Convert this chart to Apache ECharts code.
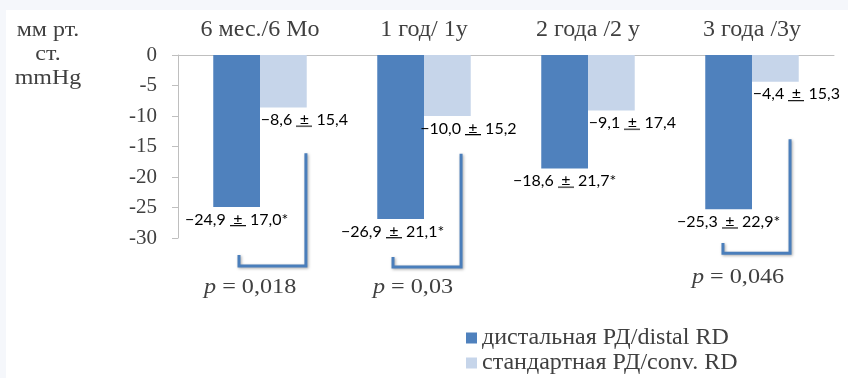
<!DOCTYPE html>
<html>
<head>
<meta charset="utf-8">
<script src="https://cdn.jsdelivr.net/npm/echarts@6/dist/echarts.min.js"></script>
<style>
  html, body { margin: 0; padding: 0; background: #f5f7fb; }
  #chart { width: 848px; height: 378px; }
</style>
</head>
<body>
<div id="chart"></div>
<script>
// Follow-up periods
const categories = ['6 мес./6 Mo', '1 год/ 1y', '2 года /2 y', '3 года /3y'];
// Mean change (mm Hg) and SD, distal renal denervation
const distalMean = [-24.9, -26.9, -18.6, -25.3];
const distalSd = [17.0, 21.1, 21.7, 22.9];
// Mean change (mm Hg) and SD, conventional renal denervation
const convMean = [-8.6, -10.0, -9.1, -4.4];
const convSd = [15.4, 15.2, 17.4, 15.3];
// Between-group p values per period (null = not shown)
const pValues = ['0,018', '0,03', null, '0,046'];
// Value-axis ticks
const yTicks = [0, -5, -10, -15, -20, -25, -30];

const seriesNames = ['дистальная РД/distal RD', 'стандартная РД/conv. RD'];

const fmt = v => Math.abs(v).toFixed(1).replace('.', ',');
const labelFont = 'Lato, "Open Sans", sans-serif';
const labelSize = 16;
const serif = '"Liberation Serif", "DejaVu Serif", serif';
const textGray = '#404040';

// Small image used as the background of the "±" segment to underline it
const underline = document.createElement('canvas');
underline.width = 20; underline.height = 20;
(() => {
  const g = underline.getContext('2d');
  g.fillStyle = '#000';
  g.fillRect(0, 17, 20, 1.4);
})();
const richLabel = {
  pm: { fontFamily: labelFont, fontSize: labelSize, lineHeight: 19, color: '#000', backgroundColor: { image: underline } }
};
const labelText = (mean, sd, star) =>
  '\u2212' + fmt(mean) + ' {pm|\u00B1} ' + fmt(sd) + (star ? '*' : '');

// Bracket geometry for each p value: horizontal ends as fraction of the category band,
// vertical levels in axis units (mm Hg)
const bracketLayout = [
  { x0: -0.128, x1: 0.28, top: -16.1, foot: -32.8, base: -34.6, tx: -0.06, ty: -38.0 },
  { x0: -0.189, x1: 0.226, top: -16.2, foot: -33.1, base: -34.75, tx: -0.067, ty: -38.0 },
  null,
  { x0: -0.177, x1: 0.232, top: -13.8, foot: -30.8, base: -32.5, tx: -0.085, ty: -36.4 }
];

const bracketData = [];
pValues.forEach((p, i) => { if (p !== null) bracketData.push([i, p]); });

const chart = echarts.init(document.getElementById('chart'));

const legendCommon = {
  orient: 'vertical', left: 466, padding: 0, itemWidth: 11, itemHeight: 11,
  icon: 'rect',
  textStyle: { fontFamily: serif, fontSize: 24, color: textGray }
};

chart.setOption({
  animation: false,
  backgroundColor: '#f5f7fb',
  graphic: [
    { type: 'rect', z: -10, shape: { x: 6, y: 10, width: 842, height: 368 }, style: { fill: '#ffffff' } },
    {
      type: 'text', x: 48, y: 18, scaleX: 1.14,
      style: {
        text: 'мм рт.\nст.\nmmHg', align: 'center', lineHeight: 24,
        font: '21px ' + serif, fill: textGray
      }
    }
  ],
  grid: { left: 178, right: 14, top: 55, bottom: 140, containLabel: false },
  legend: [
    Object.assign({ top: 326, data: [seriesNames[0]] }, legendCommon),
    Object.assign({ top: 351, data: [seriesNames[1]] }, legendCommon)
  ],
  xAxis: {
    type: 'category', position: 'top', data: categories,
    axisLine: { lineStyle: { color: '#bfbfbf', width: 1 } },
    axisTick: { inside: true, length: 6, lineStyle: { color: '#bfbfbf' } },
    axisLabel: { fontFamily: serif, fontSize: 24, color: textGray, margin: 13 }
  },
  yAxis: {
    type: 'value', min: -30, max: 0, interval: 5,
    axisLine: { show: true, lineStyle: { color: '#bfbfbf', width: 1 } },
    axisTick: { show: true, length: 6, lineStyle: { color: '#bfbfbf' } },
    splitLine: { show: false },
    axisLabel: {
      fontFamily: serif, fontSize: 21, color: textGray, margin: 21,
      formatter: v => (yTicks.includes(v) ? String(v) : '')
    }
  },
  series: [
    {
      name: seriesNames[0], type: 'bar', barGap: '0%', barCategoryGap: '43%',
      itemStyle: { color: '#4f81bd' },
      data: distalMean.map((v, i) => ({ value: v, label: i === 1 ? { offset: [-8, 0] } : undefined })),
      label: {
        show: true, position: 'bottom', distance: 3,
        fontFamily: labelFont, fontSize: labelSize, color: '#000', rich: richLabel,
        formatter: p => labelText(p.value, distalSd[p.dataIndex], true)
      }
    },
    {
      name: seriesNames[1], type: 'bar',
      itemStyle: { color: '#c6d5ea' },
      data: convMean,
      label: {
        show: true, position: 'bottom', distance: 3, offset: [21, 0],
        fontFamily: labelFont, fontSize: labelSize, color: '#000', rich: richLabel,
        formatter: p => labelText(p.value, convSd[p.dataIndex], false)
      }
    },
    {
      type: 'custom', clip: false, silent: true,
      data: bracketData,
      renderItem: (params, api) => {
        const cat = api.value(0);
        const L = bracketLayout[cat];
        const band = api.size([1, 0])[0];
        const cx = api.coord([cat, 0])[0];
        const yOf = v => api.coord([cat, v])[1];
        const xl = cx + L.x0 * band, xr = cx + L.x1 * band;
        return {
          type: 'group',
          children: [
            {
              type: 'polyline',
              shape: { points: [[xl, yOf(L.foot)], [xl, yOf(L.base)], [xr, yOf(L.base)], [xr, yOf(L.top)]] },
              style: {
                stroke: '#4a7ebb', lineWidth: 3, fill: null,
                shadowBlur: 3, shadowColor: 'rgba(0,0,0,0.35)', shadowOffsetX: 1, shadowOffsetY: 1
              }
            },
            {
              type: 'text',
              x: cx + L.tx * band, y: yOf(L.ty), scaleX: 1.1,
              style: {
                text: '{i|p} = ' + bracketData[params.dataIndex][1],
                align: 'center', verticalAlign: 'middle',
                font: '22px ' + serif, fill: textGray,
                rich: { i: { fontStyle: 'italic', fontFamily: serif, fontSize: 22, fill: textGray } }
              }
            }
          ]
        };
      }
    }
  ]
});
</script>
</body>
</html>
